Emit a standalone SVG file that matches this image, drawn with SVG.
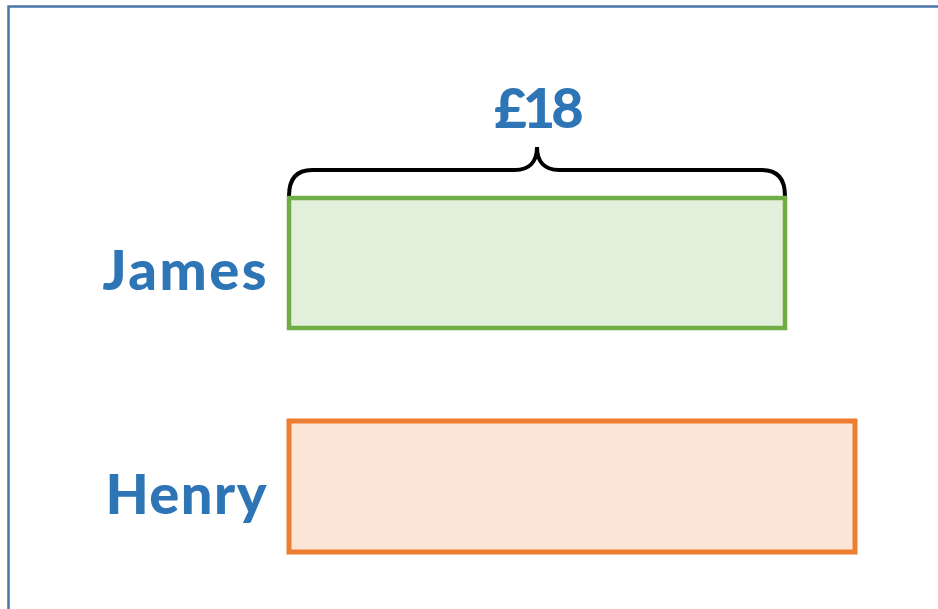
<svg xmlns="http://www.w3.org/2000/svg" width="938" height="609" viewBox="0 0 938 609">
<style>
.lbl{font-family:"Lato","Open Sans","Liberation Sans",sans-serif;font-weight:900;fill:#2E75B6;font-size:56px}
</style>
<rect width="938" height="609" fill="#fff"/>
<path d="M8.5,609 V6.5 H938" fill="none" stroke="#4A76A8" stroke-width="2.5"/>
<g id="connectors">
<path id="brace" d="M289,196 C289,181 295,170 312,170 L515,170 C529,170 537,162 537,147 C537,162 545,170 559,170 L762,170 C779,170 785,181 785,196" fill="none" stroke="#000" stroke-width="4"/>
</g>
<g id="total"><text class="lbl" x="537" y="128" text-anchor="middle" font-size="54" letter-spacing="-4">£18</text></g>
<g id="james">
<rect x="289" y="198" width="496" height="130" fill="#E2EFDA" stroke="#70AD47" stroke-width="4.5"/>
<text class="lbl" x="269" y="290" text-anchor="end" letter-spacing="2.5">James</text>
</g>
<g id="henry">
<rect x="289" y="421" width="566" height="131" fill="#FBE5D6" stroke="#ED7D31" stroke-width="5"/>
<text class="lbl" x="268" y="514" text-anchor="end" letter-spacing="1.5">Henry</text>
</g>
</svg>
